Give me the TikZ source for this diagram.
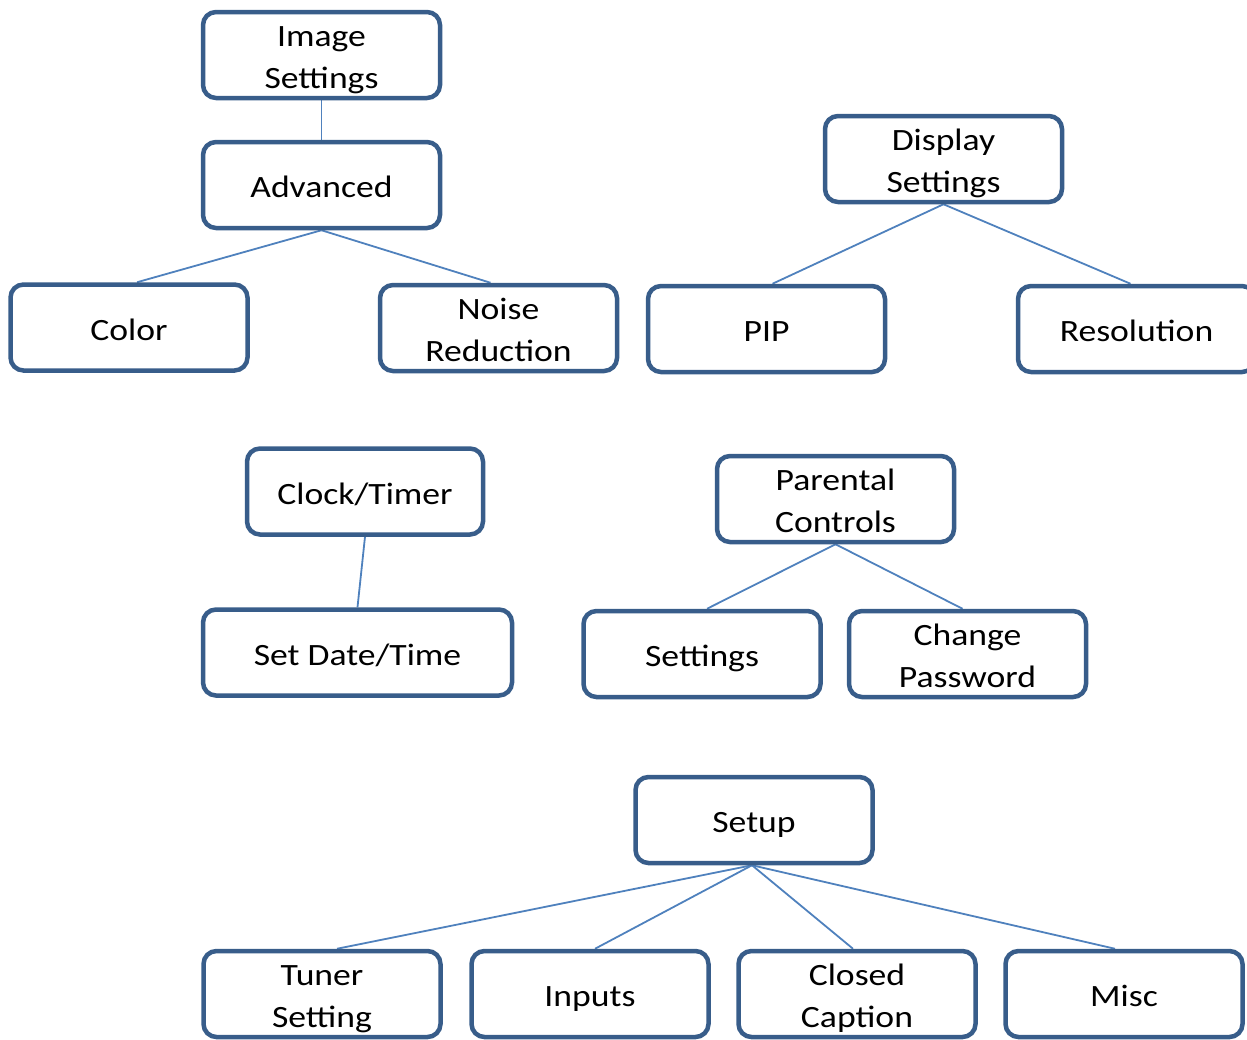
\documentclass[tikz,border=0pt]{standalone}
\usepackage{fontspec}
\setmainfont{Carlito}[FakeStretch=1.15]
\usetikzlibrary{backgrounds}
\definecolor{boxblue}{HTML}{385D8A}
\definecolor{linkblue}{HTML}{4F81BD}
\tikzset{
  menubox/.style={draw=boxblue, line width=4.5pt, rounded corners=13pt, fill=white,
    minimum width=237pt, minimum height=86pt, inner sep=0pt, align=center,
    font=\fontsize{31}{42.5}\selectfont, text=black},
  oneline/.style={menubox, text height=25pt, text depth=0pt},
  twoline/.style={menubox, text height=67pt, text depth=0pt},
  link/.style={draw=linkblue, line width=1.8pt}
}
\begin{document}
\begin{tikzpicture}[x=1pt,y=-1pt]
\useasboundingbox (0,0) rectangle (1247,1039);
\clip (0,0) rectangle (1247,1039);
% top left tree
\node[twoline] (img) at (321.5,55) {Image\\Settings};
\node[oneline] (adv) at (321.5,185) {Advanced};
\node[oneline] (color) at (129,327.5) {Color};
\node[twoline] (noise) at (498.5,328) {Noise\\Reduction};
% top right tree
\node[twoline] (disp) at (943.5,159) {Display\\Settings};
\node[oneline] (pip) at (766.5,329) {PIP};
\node[oneline] (res) at (1136.5,329) {Resolution};
% middle left
\node[oneline, minimum width=236pt] (clock) at (365,491.5) {Clock/Timer};
\node[oneline, minimum width=309pt] (date) at (357.5,652.5) {Set Date/Time};
% middle right
\node[twoline] (par) at (835.5,499) {Parental\\Controls};
\node[oneline] (pset) at (702,654) {Settings};
\node[twoline] (pass) at (967.5,654) {Change\\Password};
% bottom
\node[oneline] (setup) at (754,820) {Setup};
\node[twoline] (tuner) at (322,994) {Tuner\\Setting};
\node[oneline] (inputs) at (590,994) {Inputs};
\node[twoline] (closed) at (857,994) {Closed\\Caption};
\node[oneline] (misc) at (1124,994) {Misc};
\begin{scope}[on background layer]
\draw[link] (img.south) -- (adv.north);
\draw[link] (adv.south) -- ([xshift=8pt]color.north);
\draw[link] (adv.south) -- ([xshift=-8pt]noise.north);
\draw[link] (disp.south) -- ([xshift=6pt]pip.north);
\draw[link] (disp.south) -- ([xshift=-6pt]res.north);
\draw[link] (clock.south) -- (date.north);
\draw[link] (par.south) -- ([xshift=5pt]pset.north);
\draw[link] (par.south) -- ([xshift=-5pt]pass.north);
\draw[link] ([xshift=-2pt]setup.south) -- ([xshift=15pt]tuner.north);
\draw[link] ([xshift=-2pt]setup.south) -- ([xshift=5pt]inputs.north);
\draw[link] ([xshift=-2pt]setup.south) -- ([xshift=-4pt]closed.north);
\draw[link] ([xshift=-2pt]setup.south) -- ([xshift=-9pt]misc.north);
\end{scope}
\end{tikzpicture}
\end{document}
